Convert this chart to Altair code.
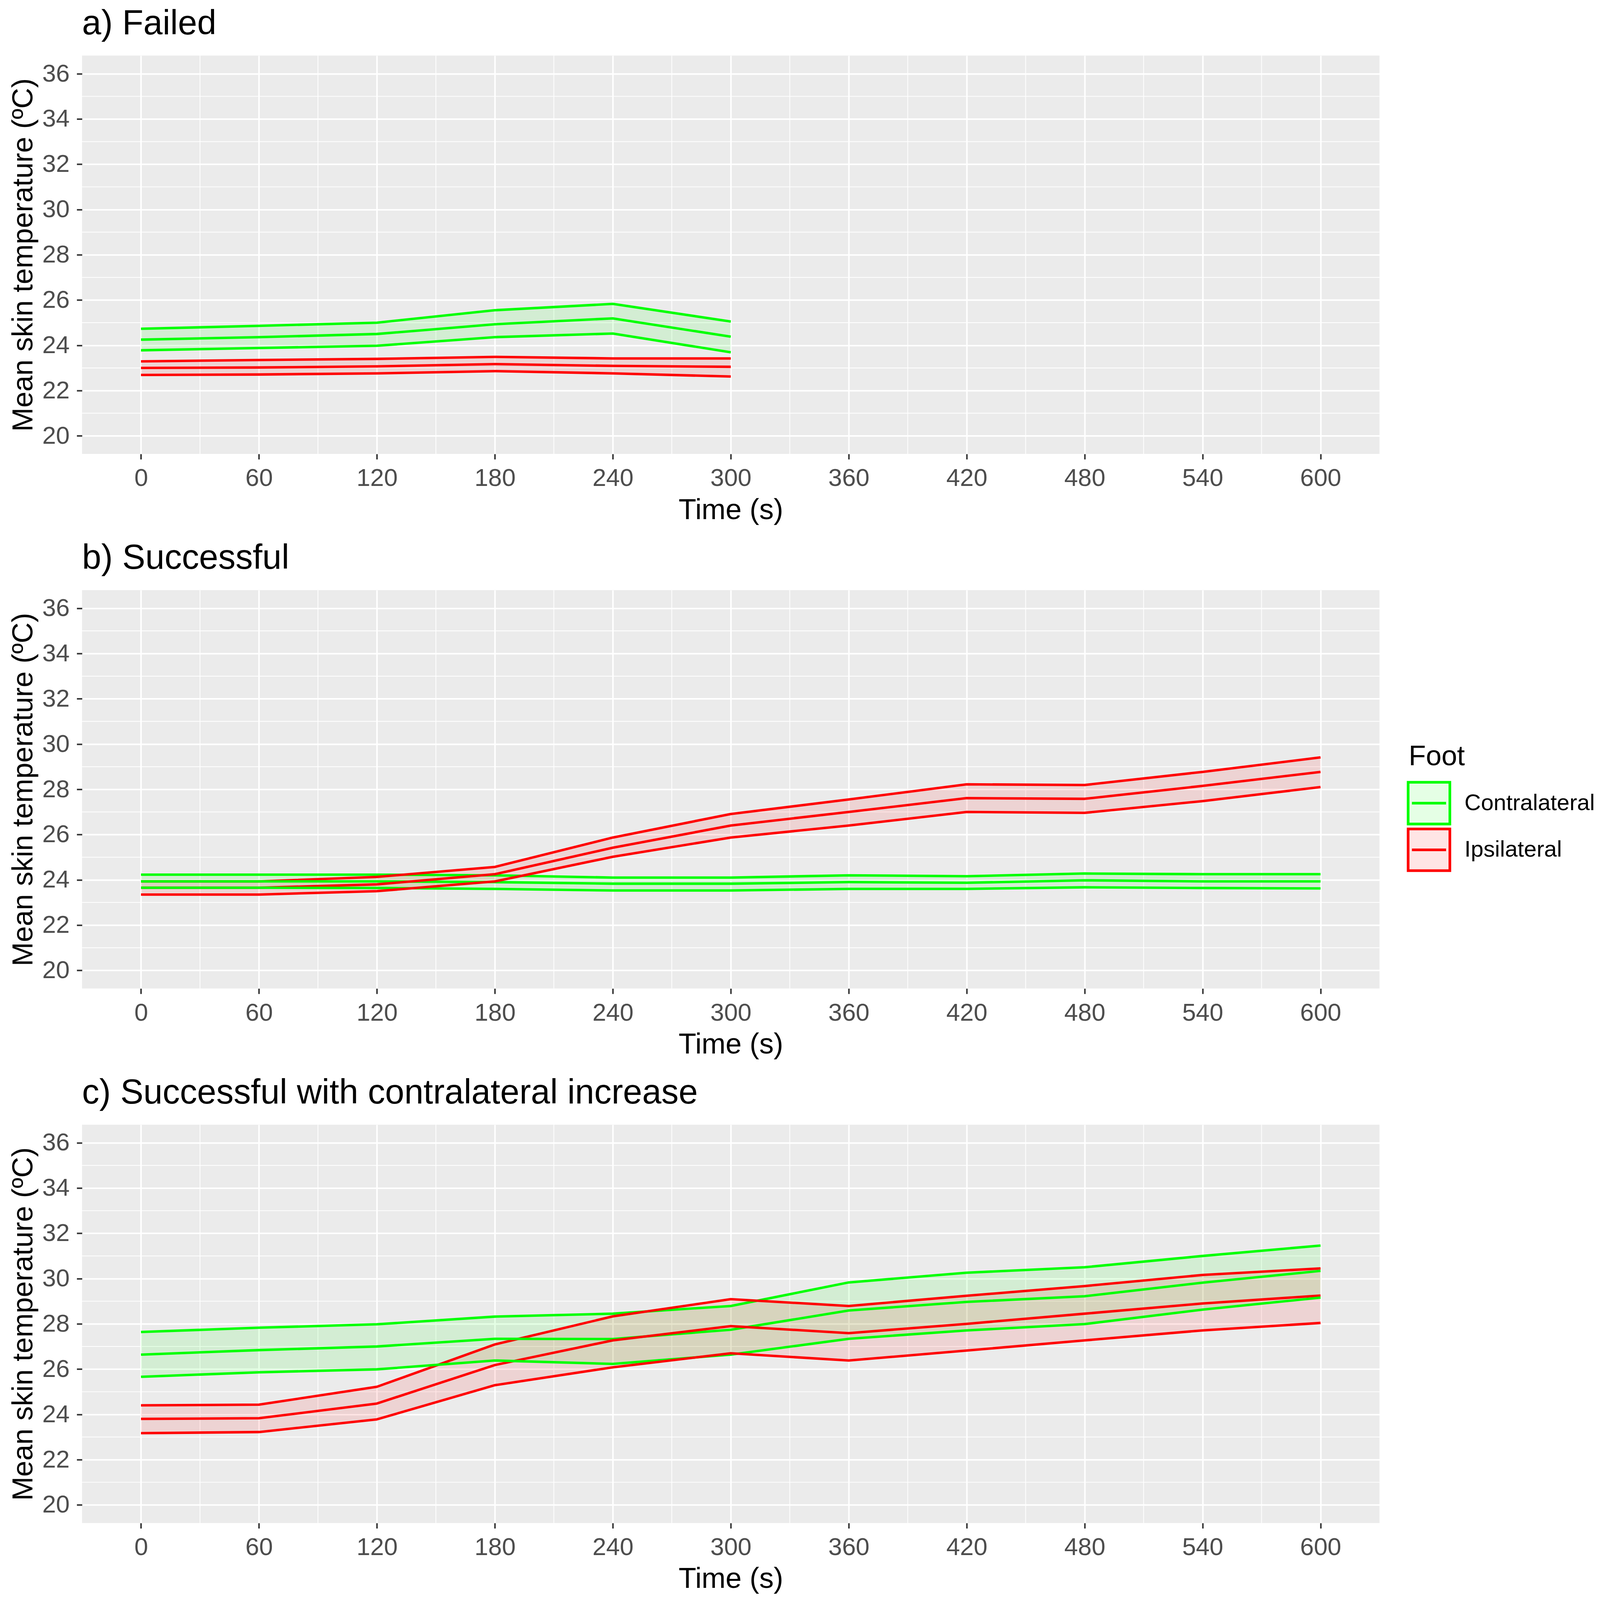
import altair as alt
import pandas as pd

# ---------------- data ----------------
FOOT = ["Contralateral", "Ipsilateral"]
time_a = [0, 60, 120, 180, 240, 300]
time_bc = [0, 60, 120, 180, 240, 300, 360, 420, 480, 540, 600]

# a) Failed
a_con_up = [24.73, 24.86, 25.00, 25.55, 25.83, 25.05]
a_con_mean = [24.25, 24.36, 24.50, 24.93, 25.19, 24.38]
a_con_lo = [23.78, 23.88, 23.98, 24.36, 24.52, 23.69]
a_ips_up = [23.29, 23.35, 23.40, 23.49, 23.42, 23.42]
a_ips_mean = [23.00, 23.02, 23.07, 23.17, 23.09, 23.05]
a_ips_lo = [22.69, 22.71, 22.76, 22.86, 22.76, 22.62]

# b) Successful
b_con_up = [24.23, 24.23, 24.23, 24.20, 24.10, 24.10, 24.20, 24.16, 24.28, 24.25, 24.25]
b_con_mean = [23.93, 23.93, 23.93, 23.90, 23.83, 23.83, 23.90, 23.87, 23.98, 23.93, 23.93]
b_con_lo = [23.65, 23.65, 23.64, 23.60, 23.53, 23.53, 23.60, 23.60, 23.67, 23.64, 23.62]
b_ips_up = [23.93, 23.93, 24.13, 24.57, 25.87, 26.91, 27.55, 28.22, 28.19, 28.77, 29.41]
b_ips_mean = [23.65, 23.65, 23.80, 24.25, 25.42, 26.40, 27.00, 27.61, 27.58, 28.15, 28.77]
b_ips_lo = [23.35, 23.35, 23.50, 23.93, 25.02, 25.87, 26.40, 27.00, 26.96, 27.48, 28.10]

# c) Successful with contralateral increase
c_con_up = [27.64, 27.83, 27.98, 28.32, 28.45, 28.79, 29.83, 30.26, 30.50, 31.00, 31.46]
c_con_mean = [26.64, 26.84, 27.00, 27.34, 27.33, 27.74, 28.59, 28.97, 29.22, 29.82, 30.34]
c_con_lo = [25.66, 25.86, 25.99, 26.38, 26.23, 26.64, 27.34, 27.71, 27.99, 28.63, 29.16]
c_ips_up = [24.40, 24.43, 25.22, 27.09, 28.33, 29.09, 28.79, 29.24, 29.67, 30.16, 30.45]
c_ips_mean = [23.80, 23.83, 24.48, 26.18, 27.27, 27.90, 27.59, 28.00, 28.45, 28.90, 29.25]
c_ips_lo = [23.17, 23.22, 23.78, 25.29, 26.08, 26.70, 26.38, 26.82, 27.27, 27.71, 28.04]

x_breaks = [0, 60, 120, 180, 240, 300, 360, 420, 480, 540, 600]
x_minor = [30, 90, 150, 210, 270, 330, 390, 450, 510, 570]
y_breaks = [20, 22, 24, 26, 28, 30, 32, 34, 36]
y_minor = [21, 23, 25, 27, 29, 31, 33, 35]

titles = ["a) Failed", "b) Successful", "c) Successful with contralateral increase"]


def frame(t, con_lo, con_mean, con_up, ips_lo, ips_mean, ips_up):
    rows = []
    for i, tt in enumerate(t):
        rows.append({"Time": tt, "Foot": FOOT[0], "lo": con_lo[i], "mean": con_mean[i], "up": con_up[i]})
    for i, tt in enumerate(t):
        rows.append({"Time": tt, "Foot": FOOT[1], "lo": ips_lo[i], "mean": ips_mean[i], "up": ips_up[i]})
    return pd.DataFrame(rows)


dfs = [
    frame(time_a, a_con_lo, a_con_mean, a_con_up, a_ips_lo, a_ips_mean, a_ips_up),
    frame(time_bc, b_con_lo, b_con_mean, b_con_up, b_ips_lo, b_ips_mean, b_ips_up),
    frame(time_bc, c_con_lo, c_con_mean, c_con_up, c_ips_lo, c_ips_mean, c_ips_up),
]

# ---------------- style ----------------
W, H = 3420, 1050
FONT = "Liberation Sans"
LINE_W = 6.5
xscale = alt.Scale(domain=[-30, 630], nice=False, zero=False)
yscale = alt.Scale(domain=[19.2, 36.8], nice=False, zero=False)
fill_scale = alt.Scale(domain=FOOT, range=["rgba(0,255,0,0.1)", "rgba(255,0,0,0.1)"])
stroke_scale = alt.Scale(domain=FOOT, range=["#00FF00", "#FF0000"])

SYMBOL = "M-1.1,-1.1H1.1V1.1H-1.1Z M-0.9,0H0.9"

XAXIS = alt.Axis(values=x_breaks, title="Time (s)", grid=True, format="d", titlePadding=14)
YAXIS = alt.Axis(values=y_breaks, title="Mean skin temperature (ºC)", grid=True, format="d", titlePadding=10)


def make_legend():
    return alt.Legend(
        title="Foot",
        orient="none",
        legendX=3497,
        legendY=404,
        symbolType=SYMBOL,
        symbolSize=10000,
        symbolStrokeWidth=7,
        titleFontSize=74,
        titleFont=FONT,
        titleFontWeight="normal",
        titleColor="black",
        titlePadding=30,
        labelFontSize=60,
        labelFont=FONT,
        labelColor="black",
        labelOffset=40,
        labelLimit=0,
        rowPadding=-75,
    )


def panel(df, title, show_legend):
    base = alt.Chart(df)
    xenc = alt.X("Time:Q", scale=xscale, axis=XAXIS)
    fill_leg = make_legend() if show_legend else None
    stroke_leg = make_legend() if show_legend else None
    fenc = alt.Fill("Foot:N", scale=fill_scale, legend=fill_leg)
    senc = alt.Stroke("Foot:N", scale=stroke_scale, legend=stroke_leg)

    vminor = alt.Chart(pd.DataFrame({"Time": x_minor})).mark_rule(
        color="white", strokeWidth=2
    ).encode(x=alt.X("Time:Q", scale=xscale, axis=XAXIS))
    hminor = alt.Chart(pd.DataFrame({"mean": y_minor})).mark_rule(
        color="white", strokeWidth=2
    ).encode(y=alt.Y("mean:Q", scale=yscale, axis=YAXIS))

    band = base.mark_area(strokeWidth=0).encode(
        x=xenc, y=alt.Y("lo:Q", scale=yscale, axis=YAXIS), y2="up:Q", fill=fenc
    )
    lines = []
    for fld in ["up", "mean", "lo"]:
        lines.append(
            base.mark_line(strokeWidth=LINE_W, strokeJoin="round").encode(
                x=xenc, y=alt.Y(f"{fld}:Q", scale=yscale, axis=YAXIS), stroke=senc
            )
        )
    return alt.layer(vminor, hminor, band, *lines).properties(
        width=W,
        height=H,
        title=alt.TitleParams(
            text=title,
            anchor="start",
            frame="group",
            fontSize=91,
            font=FONT,
            fontWeight="normal",
            color="black",
            offset=36,
        ),
    )


chart = alt.vconcat(
    panel(dfs[0], titles[0], False),
    panel(dfs[1], titles[1], True),
    panel(dfs[2], titles[2], False),
    spacing=44,
).resolve_legend(
    fill="independent", stroke="independent"
).properties(
    background="white",
    padding={"left": 15, "right": 5, "top": -52, "bottom": 5},
).configure_view(
    fill="#EBEBEB", stroke=None
).configure_axis(
    domain=False,
    gridColor="white",
    gridWidth=4,
    tickColor="#333333",
    tickWidth=4,
    tickSize=14,
    labelFont=FONT,
    labelFontSize=65,
    labelColor="#4D4D4D",
    labelPadding=19,
    titleFont=FONT,
    titleFontSize=76,
    titleFontWeight="normal",
    titleColor="black",
)

chart.save("out.html", embed_options={"renderer": "svg", "actions": False})
